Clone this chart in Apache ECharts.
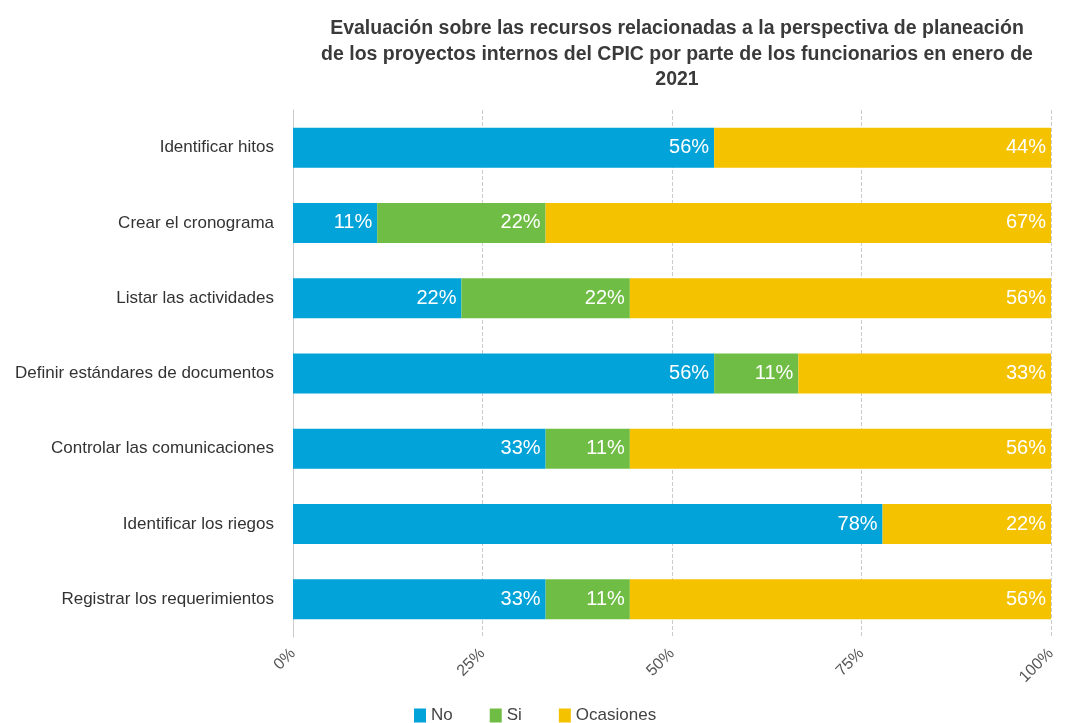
<!DOCTYPE html>
<html>
<head>
<meta charset="utf-8">
<script src="https://cdn.jsdelivr.net/npm/echarts@6/dist/echarts.min.js"></script>
<style>
  html, body { margin: 0; padding: 0; background: #fff; }
  #chart { width: 1070px; height: 723px; }
</style>
</head>
<body>
<div id="chart"></div>
<script>
var categories = ['Identificar hitos', 'Crear el cronograma', 'Listar las actividades',
  'Definir estándares de documentos', 'Controlar las comunicaciones',
  'Identificar los riegos', 'Registrar los requerimientos'];
var noValues = [55.56, 11.11, 22.22, 55.56, 33.33, 77.78, 33.33];
var siValues = [0, 22.22, 22.22, 11.11, 11.11, 0, 11.11];
var ocasionesValues = [44.44, 66.67, 55.56, 33.33, 55.56, 22.22, 55.56];
var tickValues = [0, 25, 50, 75, 100];

var myChart = echarts.init(document.getElementById('chart'));
var font = 'Liberation Sans, Arial, sans-serif';

function barLabel() {
    return {
        show: true,
        position: 'insideRight',
        distance: 5,
        color: '#fff',
        fontSize: 20,
        fontFamily: font,
        formatter: function(p) {
            return p.value > 0 ? Math.round(p.value) + '%' : '';
        }
    };
}

var option = {
    animation: false,
    title: {
        text: 'Evaluación sobre las recursos relacionadas a la perspectiva de planeación\nde los proyectos internos del CPIC por parte de los funcionarios en enero de\n2021',
        left: 672,
        top: 11,
        textAlign: 'center',
        textStyle: {
            fontFamily: font,
            fontSize: 19.5,
            fontWeight: 'bold',
            color: '#3a3a3a',
            lineHeight: 25.5
        }
    },
    legend: {
        top: 707,
        left: 414,
        padding: 0,
        itemWidth: 12,
        itemHeight: 14,
        itemGap: 37,
        icon: 'rect',
        textStyle: { fontFamily: font, fontSize: 17, color: '#444' },
        data: ['No', 'Si', 'Ocasiones']
    },
    grid: {
        left: 293,
        right: 19,
        top: 110,
        bottom: 86
    },
    xAxis: {
        type: 'value',
        min: 0,
        max: 100,
        interval: 25,
        axisLine: { show: false },
        axisTick: { show: false },
        axisLabel: {
            rotate: 45,
            margin: 14,
            fontFamily: font,
            fontSize: 16,
            color: '#555',
            formatter: function(v) { return tickValues.indexOf(v) >= 0 ? v + '%' : ''; }
        },
        splitLine: { show: true, lineStyle: { type: 'dashed', color: '#ccc' } }
    },
    yAxis: {
        type: 'category',
        inverse: true,
        data: categories,
        axisLine: { show: true, lineStyle: { color: '#ccc' } },
        axisTick: { show: false },
        axisLabel: { margin: 19, fontFamily: font, fontSize: 17, color: '#333' }
    },
    series: [
        { name: 'No', type: 'bar', stack: 'total', data: noValues, barWidth: 40,
          itemStyle: { color: '#02a3d8' }, label: barLabel() },
        { name: 'Si', type: 'bar', stack: 'total', data: siValues, barWidth: 40,
          itemStyle: { color: '#70bd45' }, label: barLabel() },
        { name: 'Ocasiones', type: 'bar', stack: 'total', data: ocasionesValues, barWidth: 40,
          itemStyle: { color: '#f5c200' }, label: barLabel() }
    ]
};

myChart.setOption(option);
</script>
</body>
</html>
